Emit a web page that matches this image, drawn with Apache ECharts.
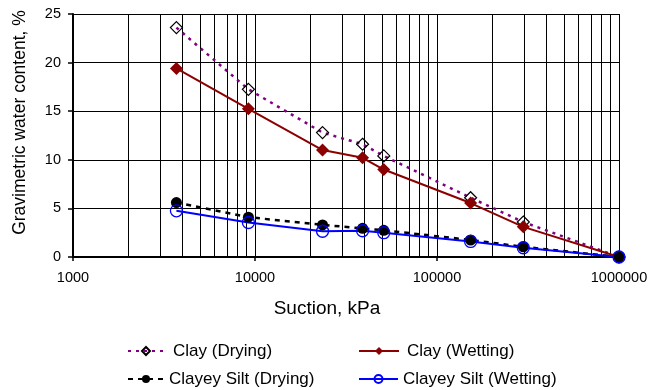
<!DOCTYPE html>
<html>
<head>
<meta charset="utf-8">
<script src="https://cdn.jsdelivr.net/npm/echarts@6/dist/echarts.min.js"></script>
<style>
  html, body { margin: 0; padding: 0; background: #fff; }
  #chart { width: 666px; height: 390px; }
</style>
</head>
<body>
<div id="chart"></div>
<script>
// suction values (kPa), shared by all four curves
var suction = [3700, 9200, 23500, 39000, 51000, 153000, 298000, 1000000];

var clayDrying = [23.6, 17.25, 12.8, 11.6, 10.4, 6.1, 3.6, 0];
var clayWetting = [19.4, 15.25, 11.0, 10.2, 9.0, 5.55, 3.1, 0];
var siltDrying = [5.6, 4.1, 3.3, 2.95, 2.75, 1.75, 1.05, 0];
var siltWetting = [4.75, 3.55, 2.65, 2.7, 2.5, 1.6, 0.95, 0];

// minor log grid lines
var minorX = [2000, 3000, 4000, 5000, 6000, 7000, 8000, 9000,
  20000, 30000, 40000, 50000, 60000, 70000, 80000, 90000,
  200000, 300000, 400000, 500000, 600000, 700000, 800000, 900000];

var font = "'Liberation Sans', Arial, sans-serif";

function pairs(ys) {
  return suction.map(function (x, i) { return [x, ys[i]]; });
}

function legendAt(name, left, top, width, pad) {
  return {
    data: [name],
    left: left,
    top: top,
    orient: 'horizontal',
    itemWidth: width,
    itemHeight: 10,
    selectedMode: false,
    textStyle: { fontFamily: font, fontSize: 17, color: '#000', lineHeight: 18, padding: [0, 0, 0, pad] }
  };
}

var chart = echarts.init(document.getElementById('chart'));

var option = {
  animation: false,
  backgroundColor: '#fff',
  grid: { left: 73, right: 47, top: 14, bottom: 133 },
  legend: [
    legendAt('Clay (Drying)', 122, 337, 36, 4),
    legendAt('Clay (Wetting)', 353, 337, 40, 3),
    legendAt('Clayey Silt (Drying)', 122, 365, 36, 0),
    legendAt('Clayey Silt (Wetting)', 353, 365, 39, 0)
  ],
  xAxis: {
    type: 'log',
    logBase: 10,
    min: 1000,
    max: 1000000,
    name: 'Suction, kPa',
    nameLocation: 'middle',
    nameGap: 42,
    nameTextStyle: { fontFamily: font, fontSize: 19, color: '#000', padding: [0, 38, 0, 0] },
    axisLine: { lineStyle: { color: '#000', width: 2 } },
    axisTick: { show: true, length: 4, lineStyle: { color: '#000', width: 1.5 } },
    axisLabel: {
      fontFamily: font, fontSize: 14.5, color: '#000', margin: 13,
      formatter: function (v) { return String(Math.round(v)); }
    },
    splitLine: { show: true, lineStyle: { color: '#000', width: 1 } }
  },
  yAxis: {
    type: 'value',
    min: 0,
    max: 25,
    interval: 5,
    name: 'Gravimetric water content, %',
    nameLocation: 'middle',
    nameGap: 44,
    nameTextStyle: { fontFamily: font, fontSize: 17.5, color: '#000', padding: [0, 0, 0, 26] },
    axisLine: { show: true, lineStyle: { color: '#000', width: 2 } },
    axisTick: { show: true, length: 5, lineStyle: { color: '#000', width: 1.5 } },
    axisLabel: { fontFamily: font, fontSize: 14.5, color: '#000', margin: 12 },
    splitLine: { show: true, lineStyle: { color: '#000', width: 1 } }
  },
  series: [
    {
      name: 'Clay (Drying)',
      type: 'line',
      data: pairs(clayDrying),
      symbol: 'diamond',
      symbolSize: 12,
      itemStyle: { color: 'rgba(255,255,255,0)', borderColor: '#000', borderWidth: 1.2 },
      lineStyle: { color: '#800080', width: 2.5, type: [3, 5] },
      markLine: {
        silent: true,
        z: 1,
        symbol: ['none', 'none'],
        label: { show: false },
        lineStyle: { color: '#000', width: 1, type: 'solid' },
        emphasis: { disabled: true },
        data: minorX.map(function (v) { return { xAxis: v }; })
      }
    },
    {
      name: 'Clay (Wetting)',
      type: 'line',
      data: pairs(clayWetting),
      symbol: 'diamond',
      symbolSize: 13,
      itemStyle: { color: '#8b0000' },
      lineStyle: { color: '#8b0000', width: 2 }
    },
    {
      name: 'Clayey Silt (Drying)',
      type: 'line',
      data: pairs(siltDrying),
      symbol: 'circle',
      symbolSize: 11,
      itemStyle: { color: '#000' },
      lineStyle: { color: '#000', width: 2.5, type: [5, 5] }
    },
    {
      name: 'Clayey Silt (Wetting)',
      type: 'line',
      data: pairs(siltWetting),
      symbol: 'circle',
      symbolSize: 12,
      itemStyle: { color: 'rgba(255,255,255,0)', borderColor: '#0000ff', borderWidth: 1.3 },
      lineStyle: { color: '#0000ff', width: 2 }
    }
  ]
};

chart.setOption(option);
</script>
</body>
</html>
